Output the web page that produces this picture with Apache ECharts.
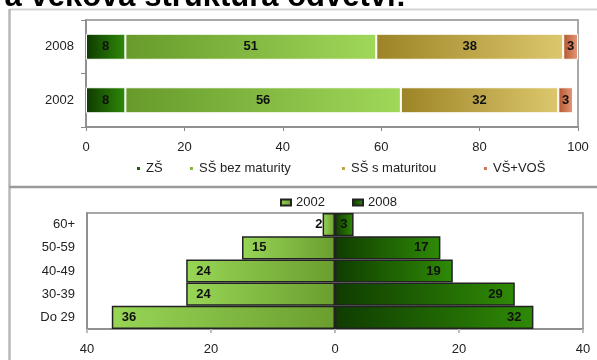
<!DOCTYPE html>
<html>
<head>
<meta charset="utf-8">
<script src="https://cdn.jsdelivr.net/npm/echarts@6/dist/echarts.min.js"></script>
<style>html,body{margin:0;padding:0;background:#fff;}#c{width:597px;height:360px;}</style>
</head>
<body>
<div id="c"></div>
<script>
// ---- Top chart data (education structure, %) ----
const eduYears = ['2002', '2008'];
const eduNames = ['ZŠ', 'SŠ bez maturity', 'SŠ s maturitou', 'VŠ+VOŠ'];
const eduZS = [8, 8];
const eduSSbez = [56, 51];
const eduSSmat = [32, 38];
const eduVS = [3, 3];
const eduTicks = [0, 20, 40, 60, 80, 100];

// ---- Bottom chart data (age structure, %) ----
const ageGroups = ['Do 29', '30-39', '40-49', '50-59', '60+'];
const ageNames = ['2002', '2008'];
const age2002 = [36, 24, 24, 15, 2];
const age2008 = [32, 29, 19, 17, 3];
const ageTicks = [40, 20, 0, 20, 40];

const titleText = 'Vzdělanostní a věková struktura odvětví:';

const FONT = '"Liberation Sans", Arial, sans-serif';

function grad(c1, c2) {
  return new echarts.graphic.LinearGradient(0, 0, 1, 0, [
    { offset: 0, color: c1 }, { offset: 1, color: c2 }
  ]);
}

const eduColors = [
  grad('#0f3a00', '#2e8a08'),
  grad('#679a2a', '#a0d85a'),
  grad('#9c8426', '#ddc76c'),
  grad('#b45530', '#e69a78')
];
const eduData = [eduZS, eduSSbez, eduSSmat, eduVS];

const labelStyle = { color: '#111', fontSize: 13, fontWeight: 'bold', fontFamily: FONT };

const eduSeries = eduNames.map((n, i) => ({
  name: n,
  type: 'bar',
  stack: 'edu',
  xAxisIndex: 0,
  yAxisIndex: 0,
  barWidth: 26,
  data: eduData[i],
  itemStyle: { color: eduColors[i], borderColor: '#ffffff', borderWidth: 1 },
  label: Object.assign({ show: true, position: 'inside' }, labelStyle)
}));

const ageSeries = [
  {
    name: ageNames[0],
    type: 'bar',
    stack: 'age',
    xAxisIndex: 1,
    yAxisIndex: 1,
    barCategoryGap: '0%',
    data: age2002.map(v => {
      const d = { value: -v };
      if (v < 5) d.label = { position: 'left', distance: 0 };
      return d;
    }),
    itemStyle: { color: grad('#98d656', '#6a9e2e'), borderColor: '#222', borderWidth: 1.5 },
    label: Object.assign({ show: true, position: 'insideLeft', distance: 10,
      formatter: p => Math.abs(p.value) }, labelStyle)
  },
  {
    name: ageNames[1],
    type: 'bar',
    stack: 'age',
    xAxisIndex: 1,
    yAxisIndex: 1,
    barCategoryGap: '0%',
    data: age2008.map(v => {
      const d = { value: v };
      if (v < 5) d.label = { distance: 6 };
      return d;
    }),
    itemStyle: { color: grad('#0f3c00', '#2f8a06'), borderColor: '#222', borderWidth: 1.5 },
    label: Object.assign({ show: true, position: 'insideRight', distance: 12 }, labelStyle)
  }
];

const axisLabelStyle = { color: '#222', fontSize: 13, fontFamily: FONT };

const eduLegendLeft = [135, 188, 340, 482];
const ageLegendLeft = [280, 352];
const legends = eduNames.map((n, i) => ({
  data: [n], left: eduLegendLeft[i], top: 162, padding: 0,
  icon: 'rect', itemWidth: 5, itemHeight: 5, itemGap: 0,
  textStyle: { color: '#222', fontSize: 13, fontFamily: FONT }
})).concat(ageNames.map((n, i) => ({
  data: [n], left: ageLegendLeft[i], top: 196, padding: 0,
  icon: 'rect', itemWidth: 10, itemHeight: 6, itemGap: 0,
  textStyle: { color: '#222', fontSize: 13, fontFamily: FONT }
})));

const option = {
  animation: false,
  backgroundColor: '#fff',
  textStyle: { fontFamily: FONT },
  graphic: [
    { type: 'text', z: 10,
      style: { x: 406, y: 13, text: titleText, fontSize: 31, fontWeight: 'bold', fontFamily: FONT,
               fill: '#000', align: 'right', verticalAlign: 'bottom' } },
    { type: 'line', z: 0, shape: { x1: 10, y1: 9.5, x2: 597, y2: 9.5 }, style: { stroke: '#d4d4d4', lineWidth: 2 } },
    { type: 'line', z: 0, shape: { x1: 9.5, y1: 9, x2: 9.5, y2: 360 }, style: { stroke: '#b8b8b8', lineWidth: 2.5 } },
    { type: 'line', z: 0, shape: { x1: 9, y1: 187, x2: 597, y2: 187 }, style: { stroke: '#9a9a9a', lineWidth: 2.5 } }
  ],
  legend: legends,
  grid: [
    { left: 86, right: 19, top: 20, height: 107, show: true, borderColor: '#a8a8a8', borderWidth: 2, backgroundColor: '#fff' },
    { left: 87, right: 14, top: 213, height: 116, show: true, borderColor: '#a8a8a8', borderWidth: 2, backgroundColor: '#fff' }
  ],
  xAxis: [
    {
      gridIndex: 0, type: 'value', min: eduTicks[0], max: eduTicks[eduTicks.length - 1], interval: 20,
      splitLine: { show: false },
      axisLine: { show: true, lineStyle: { color: '#888', width: 1.5 } },
      axisTick: { show: true, length: 4, lineStyle: { color: '#888' } },
      axisLabel: Object.assign({ margin: 14 }, axisLabelStyle)
    },
    {
      gridIndex: 1, type: 'value', min: -ageTicks[0], max: ageTicks[ageTicks.length - 1], interval: 20,
      splitLine: { show: false },
      axisLine: { show: true, onZero: false, lineStyle: { color: '#888', width: 1.5 } },
      axisTick: { show: true, length: 4, lineStyle: { color: '#bbb', width: 2 } },
      axisLabel: Object.assign({ margin: 14, formatter: v => String(Math.abs(v)) }, axisLabelStyle)
    }
  ],
  yAxis: [
    {
      gridIndex: 0, type: 'category', data: eduYears,
      axisLine: { show: true, lineStyle: { color: '#888', width: 1.5 } },
      axisTick: { show: true, length: 5, lineStyle: { color: '#888' } },
      axisLabel: Object.assign({ margin: 12 }, axisLabelStyle)
    },
    {
      gridIndex: 1, type: 'category', data: ageGroups,
      axisLine: { show: true, onZero: false, lineStyle: { color: '#888', width: 1.5 } },
      axisTick: { show: false },
      axisLabel: Object.assign({ margin: 12 }, axisLabelStyle)
    }
  ],
  series: eduSeries.concat(ageSeries)
};

const chart = echarts.init(document.getElementById('c'), null, { renderer: 'canvas' });
chart.setOption(option);
</script>
</body>
</html>
